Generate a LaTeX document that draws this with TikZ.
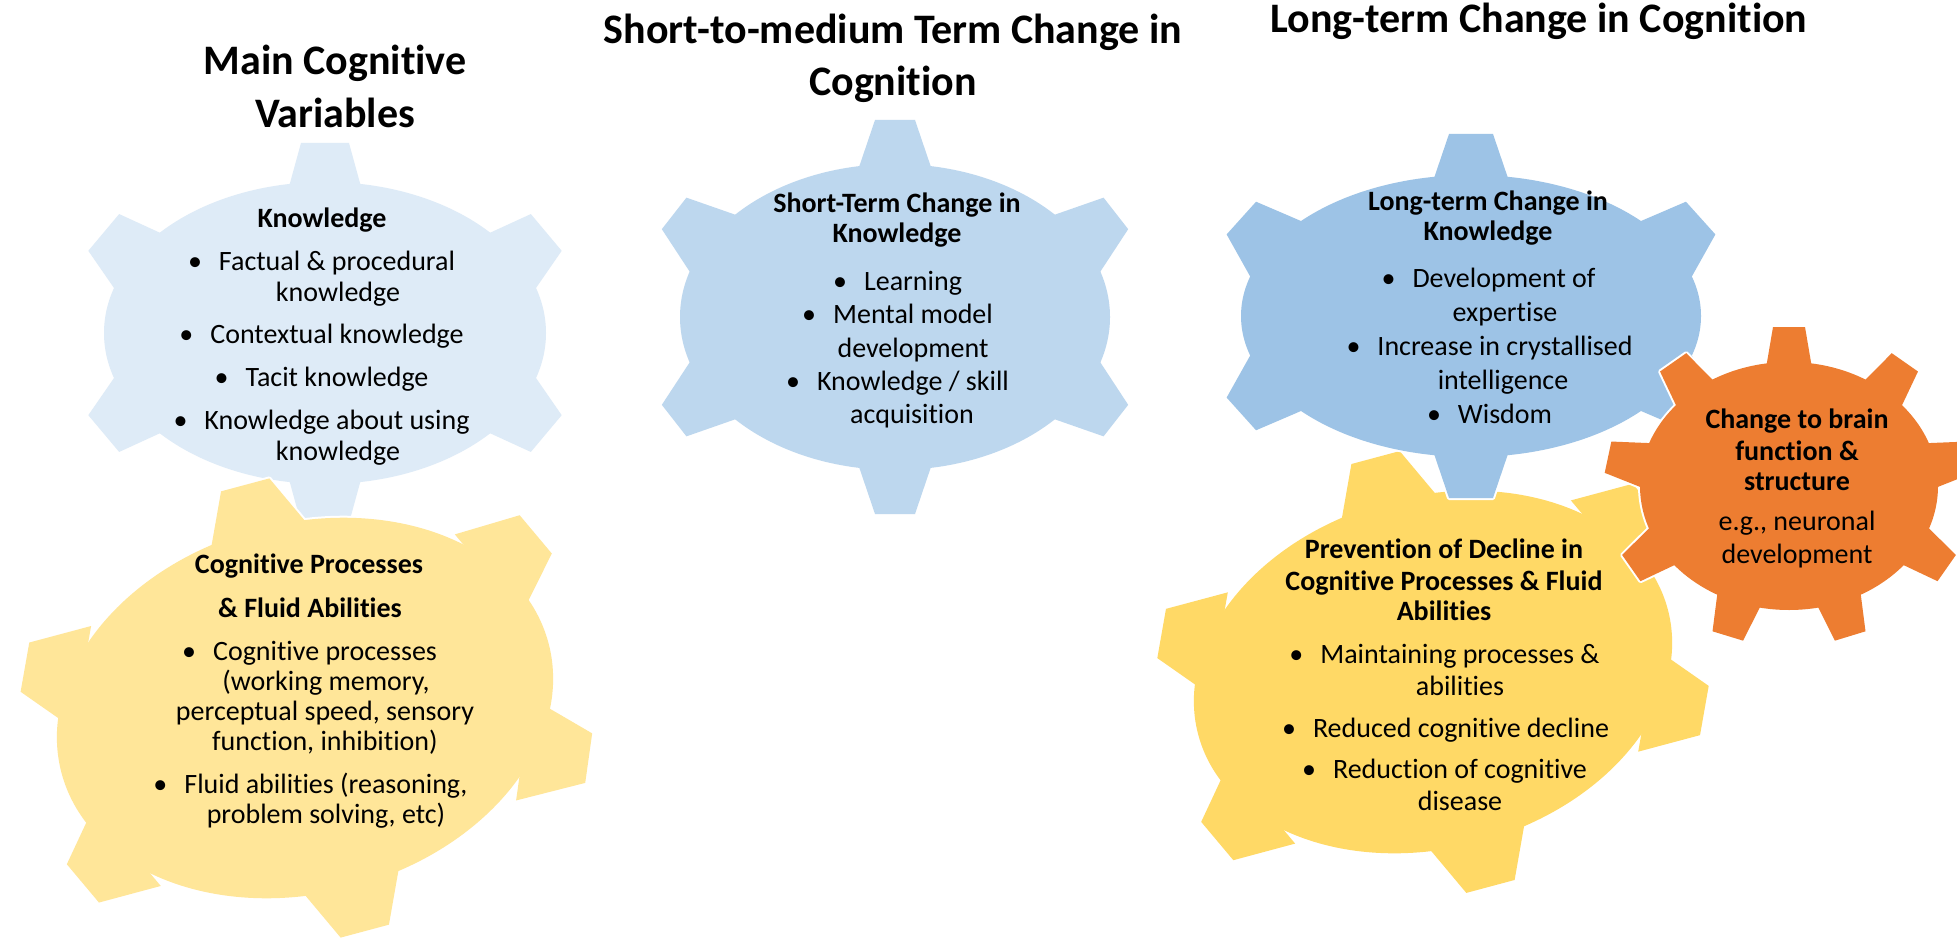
\documentclass[tikz,border=0pt]{standalone}
\usepackage{fontspec}
\setmainfont{Carlito}[Ligatures={NoCommon}]
\usetikzlibrary{calc}
\definecolor{kblue}{HTML}{DEEBF7}
\definecolor{sblue}{HTML}{BDD7EE}
\definecolor{lblue}{HTML}{9DC3E6}
\definecolor{pyellow}{HTML}{FFE699}
\definecolor{dyellow}{HTML}{FFD966}
\definecolor{gorange}{HTML}{ED7D31}
\newcommand{\bul}{\llap{\textbullet\hspace{17pt}}}
% #1 style, #2 centre, #3 rotation, #4 rx, #5 ry, #6 base half width, #7 tip half width, #8 base inset, #9 list param/direction/height
\newcommand{\gearparts}[9]{%
  \begin{scope}[shift={(#2)},rotate=#3]
    \path[#1] (0,0) ellipse[x radius=#4, y radius=#5];
    \foreach \tq/\ph/\hh in {#9}{%
      \path[#1] ($(\tq:#4 and #5)+(\ph:-#8)+(\ph+90:#6)$)
        -- ($(\tq:#4 and #5)+(\ph:\hh)+(\ph+90:#7)$)
        -- ($(\tq:#4 and #5)+(\ph:\hh)+(\ph-90:#7)$)
        -- ($(\tq:#4 and #5)+(\ph:-#8)+(\ph-90:#6)$) -- cycle;
    }
  \end{scope}%
}
\begin{document}
\begin{tikzpicture}[x=1pt,y=-1pt,
  halo/.style={draw=white,line width=4pt,line join=round},
  txt/.style={anchor=base,inner sep=0pt,font=\fontsize{28}{33}\selectfont},
  ttl/.style={anchor=base,inner sep=0pt,font=\fontsize{42}{50}\selectfont\bfseries}]
\useasboundingbox (0,0) rectangle (1957,939);
\fill[white] (0,0) rectangle (1957,939);
\clip (0,0) rectangle (1957,939);
% gear 1 : knowledge
\gearparts{halo}{325,333}{0}{221}{151}{38}{24}{12}{90/90/39,270/270/39,30/40/39,150/140/39,210/220/39,330/320/39}
\gearparts{fill=kblue}{325,333}{0}{221}{151}{38}{24}{12}{90/90/39,270/270/39,30/40/39,150/140/39,210/220/39,330/320/39}
% gear 3 : cognitive processes
\gearparts{halo}{305,708}{15}{252}{185}{52}{25}{12}{90/90/46,270/270/46,33/23/54,150/155/46,210/205/46,332/335/50}
\gearparts{fill=pyellow}{305,708}{15}{252}{185}{52}{25}{12}{90/90/46,270/270/46,33/23/54,150/155/46,210/205/46,332/335/50}
% gear 2 : short-term
\gearparts{halo}{895,317}{0}{215}{153}{39}{20}{12}{90/90/44,270/270/44,30/38/44,150/142/44,210/218/44,330/322/44}
\gearparts{fill=sblue}{895,317}{0}{215}{153}{39}{20}{12}{90/90/44,270/270/44,30/38/44,150/142/44,210/218/44,330/322/44}
% gear 5 : prevention of decline
\gearparts{halo}{1433,672}{15}{243}{176}{52}{25}{12}{90/90/46,270/270/46,30/25/46,150/155/46,210/205/46,330/335/46}
\gearparts{fill=dyellow}{1433,672}{15}{243}{176}{52}{25}{12}{90/90/46,270/270/46,30/25/46,150/155/46,210/205/46,330/335/46}
% gear 4 : long-term
\gearparts{halo}{1471,316}{0}{230}{141}{40}{22}{12}{90/90/41,270/270/41,30/42/41,150/138/41,210/222/41,330/318/41}
\gearparts{fill=lblue}{1471,316}{0}{230}{141}{40}{22}{12}{90/90/41,270/270/41,30/42/41,150/138/41,210/222/41,330/318/41}
% gear 6 : brain
\gearparts{halo}{1789,486}{0}{149}{124}{24}{16}{12}{30/35/35,70/73/35,110/107/35,150/145/35,190/192/35,230/235/35,270/270/35,310/305/35,350/348/35}
\gearparts{fill=gorange}{1789,486}{0}{149}{124}{24}{16}{12}{30/35/35,70/73/35,110/107/35,150/145/35,190/192/35,230/235/35,270/270/35,310/305/35,350/348/35}
% titles
\node[ttl] (h1a) at (335,75) {Main Cognitive};
\node[ttl] (h1b) at (335,128) {Variables};
\node[ttl] (h2a) at (893,44) {Short-to-medium Term Change in};
\node[ttl] (h2b) at (893,96) {Cognition};
\node[ttl] (h3) at (1539,33) {Long-term Change in Cognition};
% gear texts
\foreach \xx/\yy/\tx [count=\i] in {322/227/{\bfseries Knowledge},
  337/270/{\bul Factual \& procedural}, 338/301/{knowledge},
  337/343/{\bul Contextual knowledge}, 337/386/{\bul Tacit knowledge},
  337/429/{\bul Knowledge about using}, 338/460/{knowledge}}
  {\node[txt] (ka\i) at (\xx,\yy) {\tx};}
\foreach \xx/\yy/\tx [count=\i] in {897/212/{\bfseries Short-Term Change in},
  897/242/{\bfseries Knowledge}, 913/290/{\bul Learning},
  913/323/{\bul Mental model}, 913/357/{development},
  913/390/{\bul Knowledge / skill}, 912/423/{acquisition}}
  {\node[txt] (st\i) at (\xx,\yy) {\tx};}
\foreach \xx/\yy/\tx [count=\i] in {1488/210/{\bfseries Long-term Change in},
  1488/240/{\bfseries Knowledge}, 1504/287/{\bul Development of},
  1505/321/{expertise}, 1505/355/{\bul Increase in crystallised},
  1503/389/{intelligence}, 1505/423/{\bul Wisdom}}
  {\node[txt] (lt\i) at (\xx,\yy) {\tx};}
\foreach \xx/\yy/\tx [count=\i] in {1797/428/{\bfseries Change to brain},
  1797/460/{\bfseries function \&}, 1797/490/{\bfseries structure},
  1797/530/{e.g., neuronal}, 1797/563/{development}}
  {\node[txt] (br\i) at (\xx,\yy) {\tx};}
\foreach \xx/\yy/\tx [count=\i] in {309/573/{\bfseries Cognitive Processes},
  310/617/{\bfseries \& Fluid Abilities}, 325/660/{\bul Cognitive processes},
  326/690/{(working memory,}, 325/720/{perceptual speed, sensory},
  325/750/{function, inhibition)}, 326/793/{\bul Fluid abilities (reasoning,},
  326/823/{problem solving, etc)}}
  {\node[txt] (cp\i) at (\xx,\yy) {\tx};}
\foreach \xx/\yy/\tx [count=\i] in {1444/558/{\bfseries Prevention of Decline in},
  1444/590/{\bfseries Cognitive Processes \& Fluid}, 1444/620/{\bfseries Abilities},
  1460/663/{\bul Maintaining processes \&}, 1460/695/{abilities},
  1461/737/{\bul Reduced cognitive decline}, 1460/778/{\bul Reduction of cognitive},
  1460/810/{disease}}
  {\node[txt] (pd\i) at (\xx,\yy) {\tx};}
\end{tikzpicture}
\end{document}
